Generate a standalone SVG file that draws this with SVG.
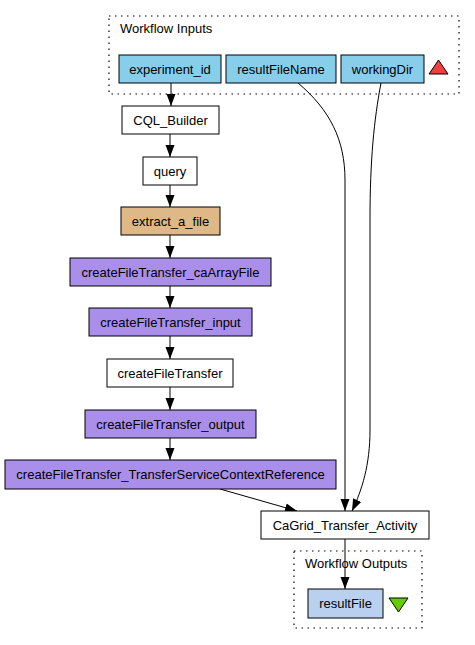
<svg xmlns="http://www.w3.org/2000/svg" width="475" height="645" viewBox="0 0 475 645">
<defs>
<style>
text{font-family:"Liberation Sans",Arial,sans-serif;font-size:13px;fill:#000}
.n rect{stroke:#000;stroke-width:1}
.n text{text-anchor:middle}
.w{fill:#fff}
.in{fill:#87ceeb}
.ex{fill:#deb887}
.pu{fill:#aa8fea}
.out{fill:#b9d1ef}
.cl{fill:none;stroke:#000;stroke-width:1.2;stroke-dasharray:1.5,4.5}
.e path{fill:none;stroke:#000;stroke-width:1}
</style>
<marker id="a" markerWidth="12" markerHeight="10" refX="12" refY="5" orient="auto" markerUnits="userSpaceOnUse">
<path d="M0,0.5 L12,5 L0,9.5 Z" fill="#000"/>
</marker>
</defs>
<rect width="475" height="645" fill="#fff"/>
<g id="cluster_inputs">
<rect class="cl" x="109" y="16" width="350" height="78"/>
<text x="120" y="33">Workflow Inputs</text>
<polygon points="438.5,60 448,74 429,74" fill="#ef3f3f" stroke="#000"/>
</g>
<g id="cluster_outputs">
<rect class="cl" x="294" y="551" width="128" height="77"/>
<text x="305" y="568">Workflow Outputs</text>
<polygon points="389,598 408,598 398.5,612" fill="#66cc00" stroke="#000"/>
</g>
<g class="e" id="edges">
<path d="M171,83 V106" marker-end="url(#a)"/>
<path d="M170,134 V157" marker-end="url(#a)"/>
<path d="M170,185 V207" marker-end="url(#a)"/>
<path d="M170,235 V258" marker-end="url(#a)"/>
<path d="M170,286 V308" marker-end="url(#a)"/>
<path d="M170,336 V359" marker-end="url(#a)"/>
<path d="M170,387 V410" marker-end="url(#a)"/>
<path d="M170,438 V460" marker-end="url(#a)"/>
<path d="M220,489 L297,511" marker-end="url(#a)"/>
<path d="M298,83 C330,110 345,140 345,180 V511" marker-end="url(#a)"/>
<path d="M381,83 C374,120 370,160 370,220 V430 C370,465 362,490 352,511" marker-end="url(#a)"/>
<path d="M345,539 V589" marker-end="url(#a)"/>
</g>
<g class="n" id="experiment_id"><rect class="in" x="119" y="55" width="102" height="28"/><text x="170" y="73.5">experiment_id</text></g>
<g class="n" id="resultFileName"><rect class="in" x="226" y="55" width="110" height="28"/><text x="281" y="73.5">resultFileName</text></g>
<g class="n" id="workingDir"><rect class="in" x="341" y="55" width="83" height="28"/><text x="382.5" y="73.5">workingDir</text></g>
<g class="n" id="CQL_Builder"><rect class="w" x="122" y="106" width="97" height="28"/><text x="170.5" y="124.5">CQL_Builder</text></g>
<g class="n" id="query"><rect class="w" x="143" y="157" width="54" height="28"/><text x="170" y="175.5">query</text></g>
<g class="n" id="extract_a_file"><rect class="ex" x="121" y="207" width="99" height="28"/><text x="170.5" y="225.5">extract_a_file</text></g>
<g class="n" id="createFileTransfer_caArrayFile"><rect class="pu" x="70" y="258" width="201" height="28"/><text x="170.5" y="276.5">createFileTransfer_caArrayFile</text></g>
<g class="n" id="createFileTransfer_input"><rect class="pu" x="89" y="308" width="163" height="28"/><text x="170.5" y="326.5">createFileTransfer_input</text></g>
<g class="n" id="createFileTransfer"><rect class="w" x="107" y="359" width="126" height="28"/><text x="170" y="377.5">createFileTransfer</text></g>
<g class="n" id="createFileTransfer_output"><rect class="pu" x="85" y="410" width="171" height="28"/><text x="170.5" y="428.5">createFileTransfer_output</text></g>
<g class="n" id="createFileTransfer_TransferServiceContextReference"><rect class="pu" x="5" y="460" width="331" height="29"/><text x="170.5" y="479">createFileTransfer_TransferServiceContextReference</text></g>
<g class="n" id="CaGrid_Transfer_Activity"><rect class="w" x="261" y="511" width="168" height="28"/><text x="345" y="529.5">CaGrid_Transfer_Activity</text></g>
<g class="n" id="resultFile"><rect class="out" x="308" y="589" width="75" height="29"/><text x="345.5" y="608">resultFile</text></g>
</svg>
